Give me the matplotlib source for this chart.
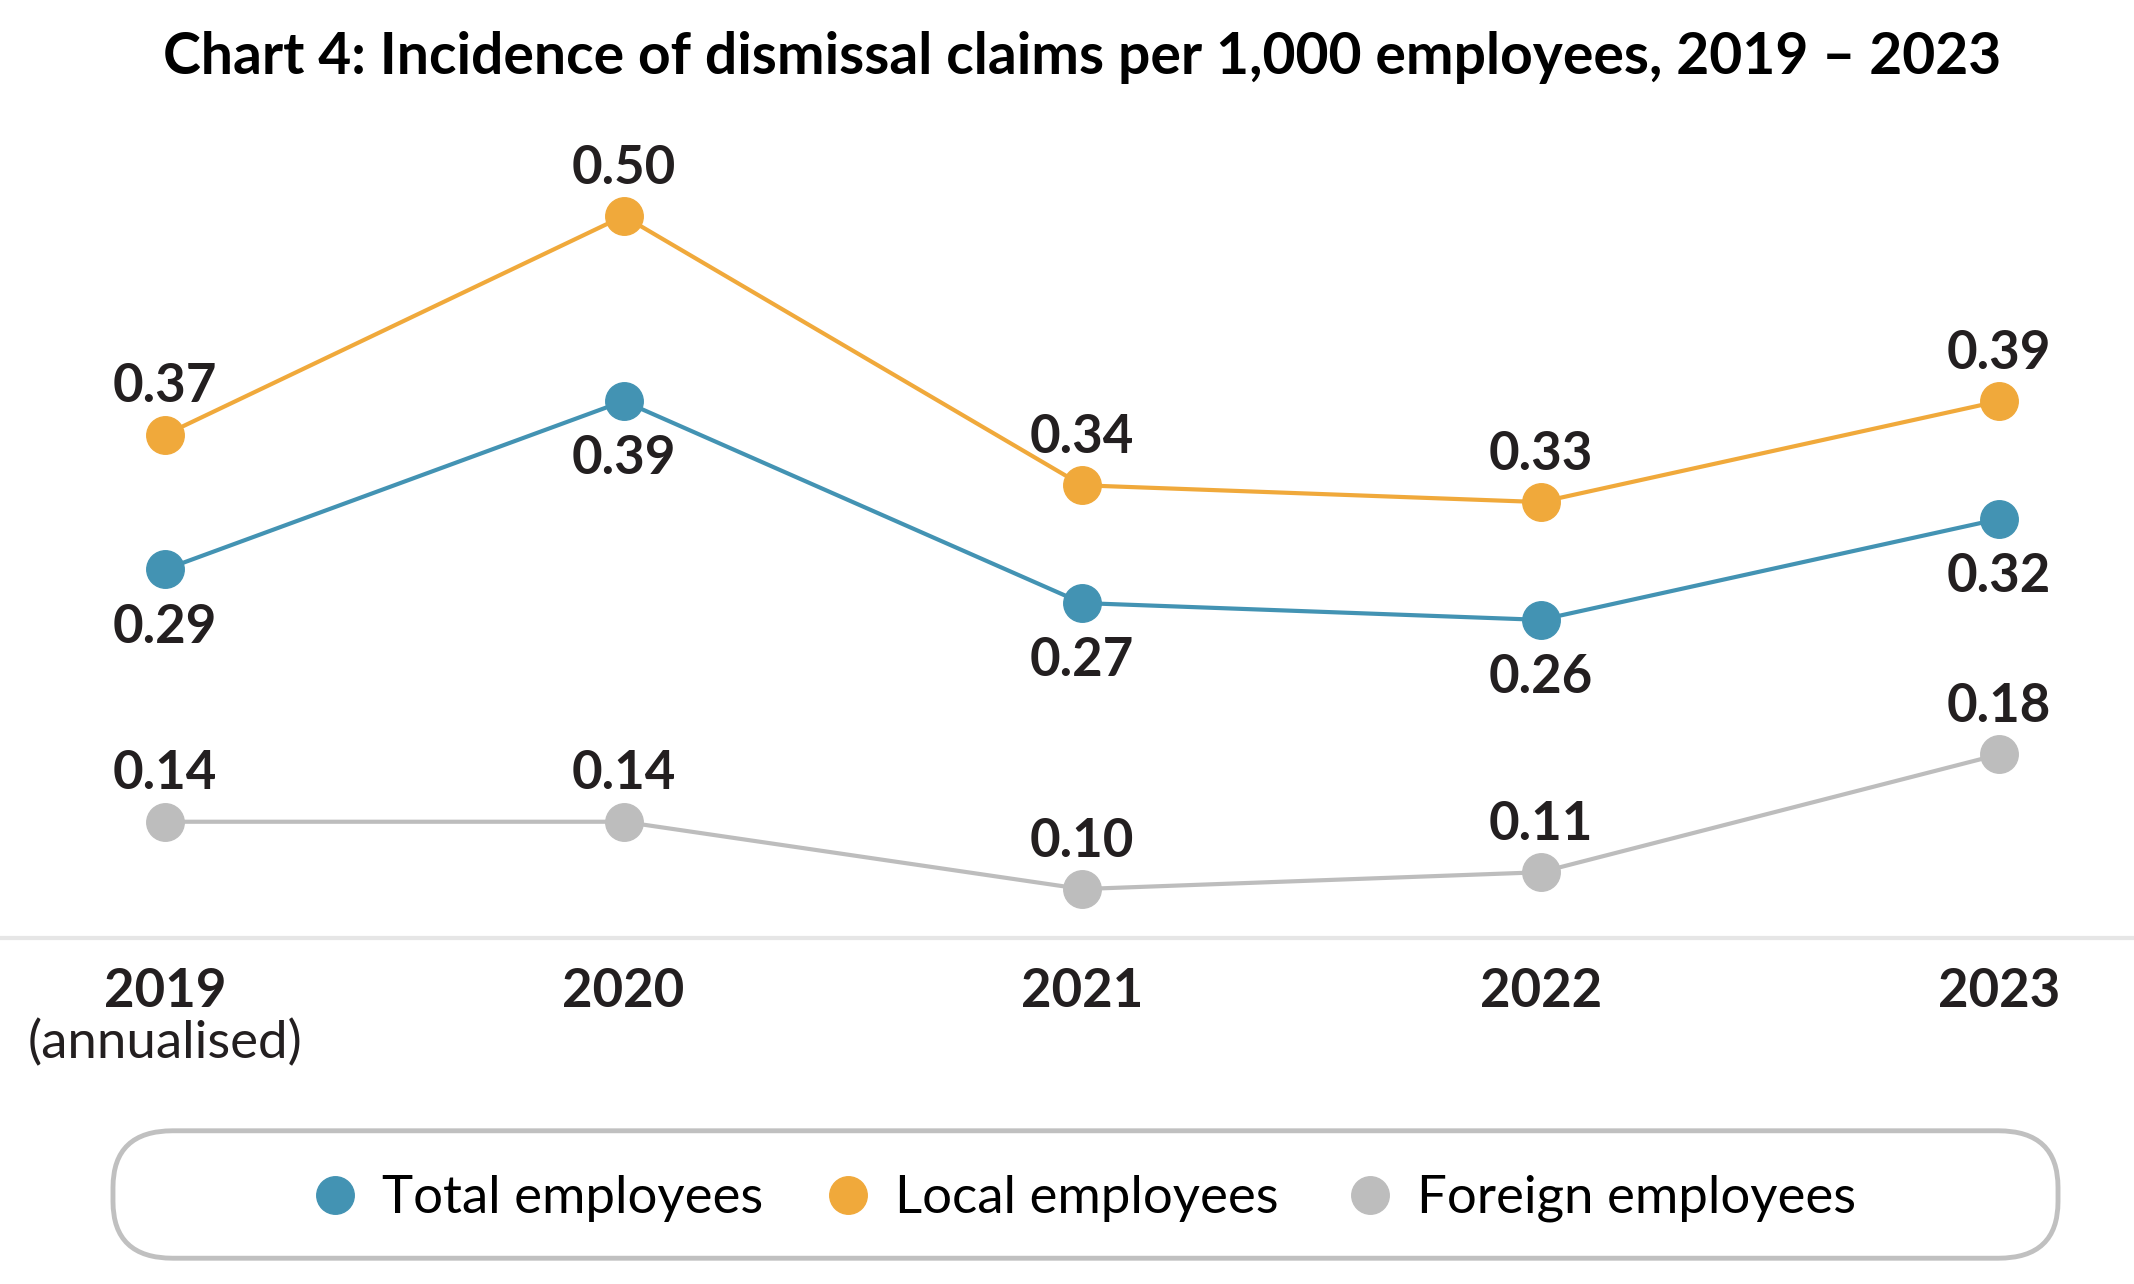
import matplotlib.pyplot as plt
from matplotlib.patches import FancyBboxPatch
from matplotlib.transforms import blended_transform_factory

plt.rcParams['font.family'] = ['Lato', 'DejaVu Sans']

years = ['2019', '2020', '2021', '2022', '2023']
total = [0.29, 0.39, 0.27, 0.26, 0.32]
local = [0.37, 0.50, 0.34, 0.33, 0.39]
foreign = [0.14, 0.14, 0.10, 0.11, 0.18]

series_names = ['Total employees', 'Local employees', 'Foreign employees']
colors = ['#4393B3', '#F0A93B', '#BDBDBD']
# label above (+1) or below (-1) the marker
label_side = [-1, 1, 1]

W, H = 2134, 1284
fig = plt.figure(figsize=(W / 100, H / 100), dpi=100)
ax = fig.add_axes([0, 1 - 938 / H, 1, (938 - 100) / H])

xs = list(range(len(years)))
for vals, c, side in zip([total, local, foreign], colors, label_side):
    ax.plot(xs, vals, color=c, lw=3, marker='o', ms=27, zorder=3)
    for x, v in zip(xs, vals):
        ax.annotate(f'{v:.2f}', (x, v), xytext=(0, 38 * side - 3.5), textcoords='offset points',
                    ha='center', va='center', fontsize=38, fontweight='bold', color='#231F20')

ax.set_xlim(-0.36, 4.294)
ax.set_ylim(0.0709, 0.569)
ax.set_yticks([])
ax.set_xticks(xs)
ax.set_xticklabels(years, fontsize=38, fontweight='bold', color='#231F20')
ax.tick_params(axis='x', length=0, pad=21)
for s in ['top', 'left', 'right']:
    ax.spines[s].set_visible(False)
ax.spines['bottom'].set_color('#E6E6E6')
ax.spines['bottom'].set_linewidth(3)

trans = blended_transform_factory(ax.transData, fig.transFigure)
ax.text(0, 1 - 1043 / H, '(annualised)', transform=trans, ha='center', va='center',
        fontsize=38, color='#231F20')

fig.text(1082 / W, 1 - 57 / H, 'Chart 4: Incidence of dismissal claims per 1,000 employees, 2019 – 2023',
         ha='center', va='center', fontsize=41, fontweight='bold', color='black')

# legend box
lx0, lx1, ly0, ly1 = 109, 2062, 1127, 1262
lw_, lh_ = lx1 - lx0, ly1 - ly0
lax = fig.add_axes([lx0 / W, 1 - ly1 / H, lw_ / W, lh_ / H])
lax.set_xlim(-4, lw_ + 4)
lax.set_ylim(-4, lh_ + 4)
lax.axis('off')
lax.add_patch(FancyBboxPatch((0, 0), lw_, lh_, boxstyle='round,pad=0,rounding_size=60',
                             fc='white', ec='#C0C0C0', lw=3.5))
marker_x = [332, 847, 1371]
for name, c, mx in zip(series_names, colors, marker_x):
    lax.plot(mx - lx0, lh_ / 2 - 1, 'o', ms=27, color=c)
    lax.text(mx - lx0 + 47, lh_ / 2 - 4, name, ha='left', va='center', fontsize=38,
             color='black')

fig.savefig('out.png', dpi=100)
